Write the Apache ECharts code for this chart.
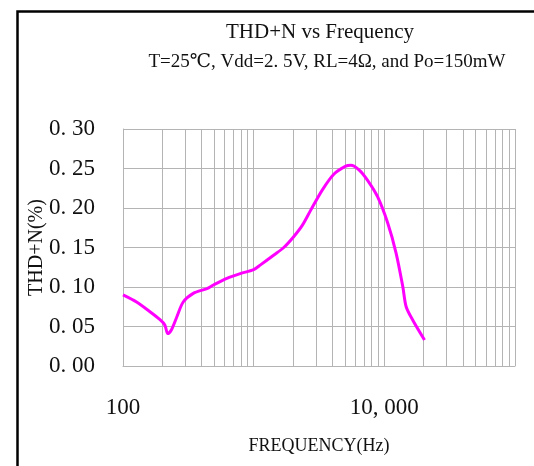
<!DOCTYPE html>
<html>
<head>
<meta charset="utf-8">
<script src="https://cdn.jsdelivr.net/npm/echarts@6/dist/echarts.min.js"></script>
<style>
html,body{margin:0;padding:0;background:#fff;}
#chart{width:534px;height:466px;}
</style>
</head>
<body>
<div id="chart"></div>
<script>
// ---- data ----
const titleText = 'THD+N vs Frequency';
const subtitleText = 'T=25℃, Vdd=2. 5V, RL=4Ω, and Po=150mW';
const xAxisName = 'FREQUENCY(Hz)';
const yAxisName = 'THD+N(%)';
const freq = [100,127,160,191,209,220,235,258,289,345,439,492,624,790,1000,1128,1429,1700,2031,2355,2728,3357,4122,5070,5545,6426,7447,8892,10613,12300,13860,14690,16520,20300];
const thd  = [0.090,0.081,0.069,0.059,0.052,0.041,0.046,0.062,0.081,0.092,0.098,0.1025,0.111,0.117,0.122,0.128,0.1405,0.150,0.164,0.178,0.197,0.223,0.243,0.253,0.254,0.248,0.235,0.214,0.181,0.143,0.100,0.075,0.058,0.033];
const xTickLabels = {100:'100', 10000:'10, 000'};
const yTickLabels = {0:'0. 00',0.05:'0. 05',0.1:'0. 10',0.15:'0. 15',0.2:'0. 20',0.25:'0. 25',0.3:'0. 30'};
const minorFreqs = [200,300,400,500,600,700,800,900,2000,3000,4000,5000,6000,7000,8000,9000,20000,30000,40000,50000,60000,70000,80000,90000];

const FONT = '"Liberation Serif", "DejaVu Serif", serif';
const gridColor = '#b4b4b4';
const chart = echarts.init(document.getElementById('chart'));
chart.setOption({
  backgroundColor: '#fff',
  animation: false,
  title: [
    {text: titleText, left: 315, top: 17, textAlign: 'center',
     textStyle: {fontFamily: FONT, fontWeight: 'normal', fontSize: 21, color: '#111'}},
    {text: subtitleText, left: 322, top: 48, textAlign: 'center',
     textStyle: {fontFamily: FONT, fontWeight: 'normal', fontSize: 19, color: '#111'}}
  ],
  graphic: [{
    type: 'rect', left: 15, top: 9, shape: {width: 700, height: 700},
    style: {fill: 'none', stroke: '#000', lineWidth: 2.5}, silent: true
  }],
  grid: {left: 123, top: 129, right: 19, bottom: 100},
  xAxis: {
    type: 'log', logBase: 10, min: 100, max: 100000,
    name: xAxisName, nameLocation: 'middle', nameGap: 71,
    nameTextStyle: {fontFamily: FONT, fontSize: 18, color: '#111'},
    axisLine: {show: true, lineStyle: {color: gridColor, width: 1}},
    axisTick: {show: false},
    axisLabel: {margin: 30, fontFamily: FONT, fontSize: 23, color: '#111',
      formatter: v => xTickLabels[Math.round(v)] || ''},
    splitLine: {show: true, lineStyle: {color: gridColor, width: 1}}
  },
  yAxis: {
    type: 'value', min: 0, max: 0.3, interval: 0.05,
    name: yAxisName, nameLocation: 'middle', nameGap: 76, nameRotate: 90,
    nameMoveOverlap: false,
    nameTextStyle: {fontFamily: FONT, fontSize: 20, color: '#111'},
    axisLine: {show: true, lineStyle: {color: gridColor, width: 1}},
    axisTick: {show: false},
    axisLabel: {margin: 28, fontFamily: FONT, fontSize: 23, color: '#111',
      formatter: v => yTickLabels[Math.round(v*100)/100] || ''},
    splitLine: {show: true, lineStyle: {color: gridColor, width: 1}}
  },
  series: [{
    type: 'line',
    data: freq.map((f, i) => [f, thd[i]]),
    showSymbol: false,
    smooth: 0.3,
    lineStyle: {color: '#ff00ff', width: 3},
    itemStyle: {color: '#ff00ff'},
    markLine: {
      silent: true, symbol: ['none','none'], label: {show: false},
      lineStyle: {color: gridColor, width: 1, type: 'solid'},
      data: minorFreqs.map(f => ({xAxis: f}))
    },
    z: 5
  }]
});
</script>
</body>
</html>
